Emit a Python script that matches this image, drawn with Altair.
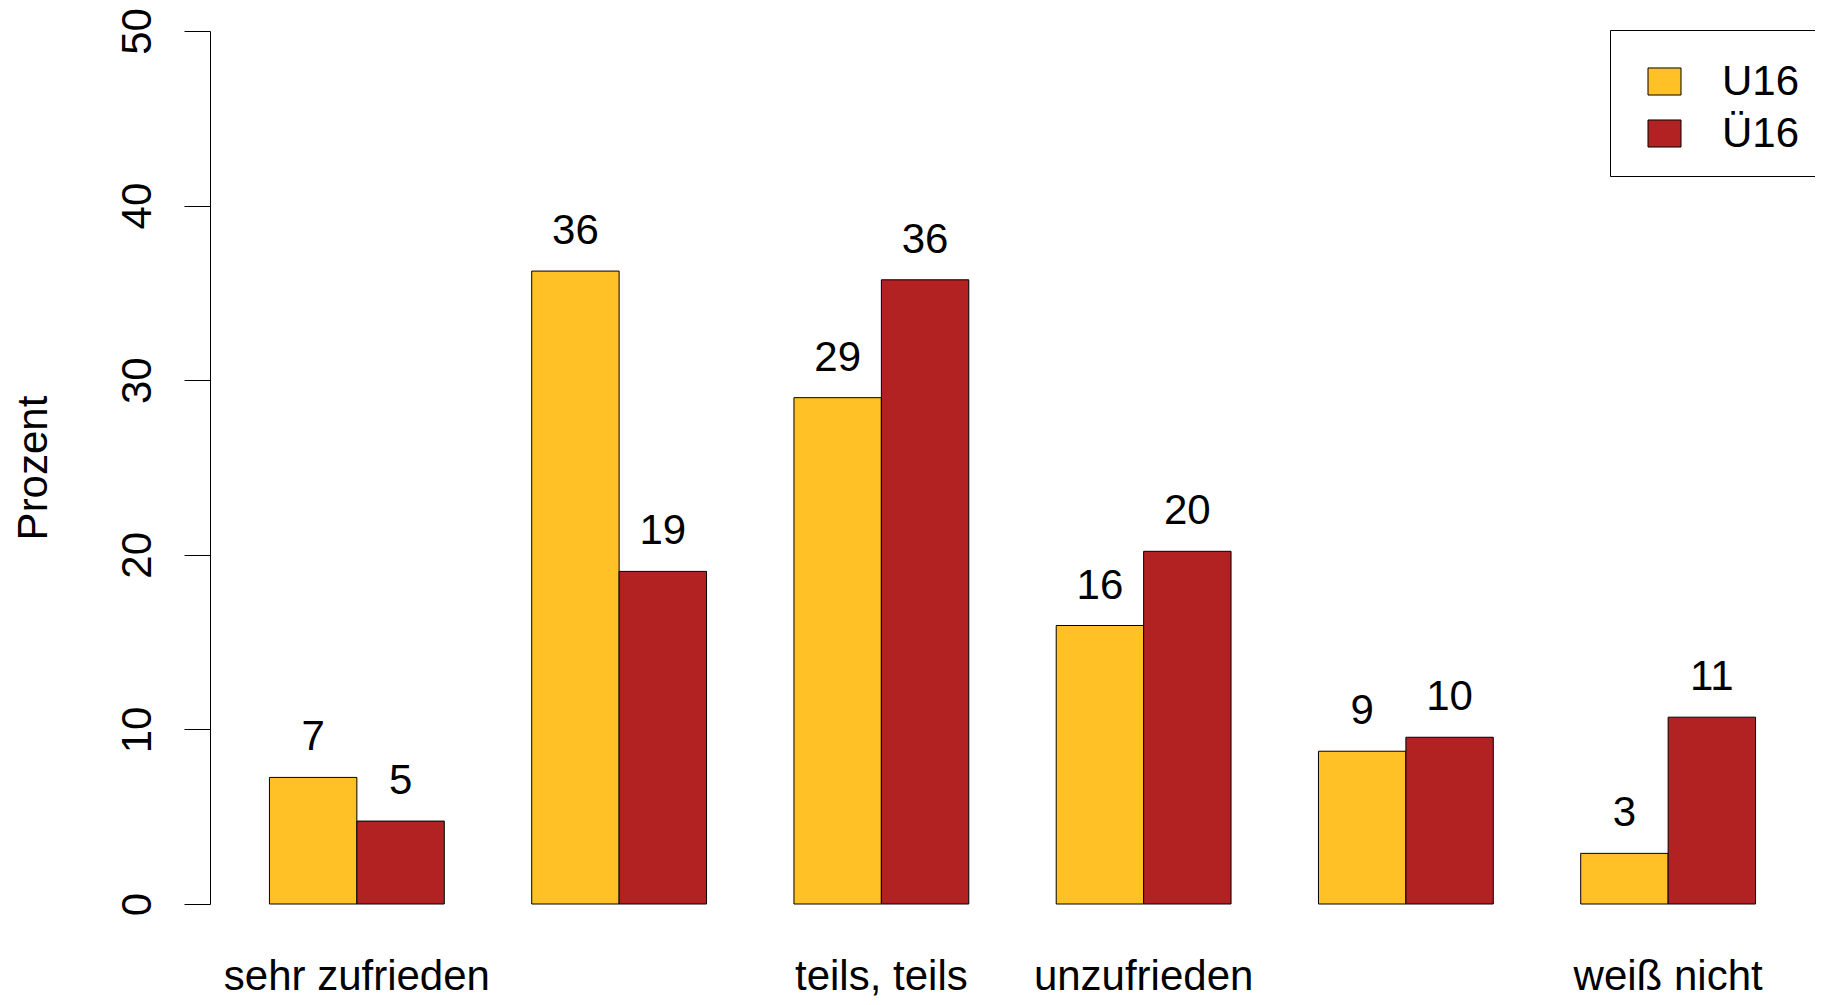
import altair as alt
import pandas as pd

categories = ["sehr zufrieden", "eher zufrieden", "teils, teils", "unzufrieden", "eher unzufrieden", "weiß nicht"]
hidden_labels = ["eher zufrieden", "eher unzufrieden"]
groups = ["U16", "Ü16"]
u16 = [7.25, 36.25, 29.0, 15.95, 8.75, 2.9]
ue16 = [4.75, 19.05, 35.75, 20.2, 9.55, 10.7]
colors = ["#FFC125", "#B22222"]
y_ticks = [0, 10, 20, 30, 40, 50]

rows = []
for c, a, b in zip(categories, u16, ue16):
    rows.append({"Kategorie": c, "Gruppe": groups[0], "Prozent": a})
    rows.append({"Kategorie": c, "Gruppe": groups[1], "Prozent": b})
df = pd.DataFrame(rows)

FONT = "Liberation Sans"
hidden_expr = "indexof(" + str(hidden_labels).replace('"', "'") + ", datum.value) >= 0 ? '' : datum.value"

x_enc = alt.X(
    "Kategorie:N",
    sort=categories,
    scale=alt.Scale(paddingInner=1 / 3, paddingOuter=0.2267),
    axis=alt.Axis(
        title=None, ticks=False, domain=False, labelAngle=0,
        labelFontSize=42, labelFont=FONT, labelColor="black",
        labelBaseline="alphabetic", labelPadding=85, labelLimit=0,
        labelOverlap=False, labelExpr=hidden_expr,
    ),
)
xoff_enc = alt.XOffset("Gruppe:N", sort=groups, scale=alt.Scale(paddingInner=0, paddingOuter=0))
y_enc = alt.Y(
    "Prozent:Q",
    scale=alt.Scale(domain=[0, 50], nice=False, zero=True),
    axis=alt.Axis(
        values=y_ticks, grid=False, domainColor="black", domainWidth=1,
        tickColor="black", tickSize=26, tickWidth=1,
        labelFontSize=42, labelFont=FONT, labelColor="black",
        labelAngle=270, labelAlign="center", labelBaseline="alphabetic",
        labelPadding=34, labelFlush=False, labelOverlap=False,
        title="Prozent", titleFont=FONT, titleFontSize=42, titleFontWeight="normal",
        titleColor="black", titleAngle=270, titleAlign="center",
        titleBaseline="alphabetic", titleX=-164, titleY=436.5,
    ),
)

bars = alt.Chart(df).mark_bar(stroke="black", strokeWidth=1, opacity=1).encode(
    x=x_enc,
    xOffset=xoff_enc,
    y=y_enc,
    fill=alt.Fill(
        "Gruppe:N",
        sort=groups,
        scale=alt.Scale(domain=groups, range=colors),
        legend=alt.Legend(
            title=" ", titleFontSize=4, titlePadding=5.75, titleOrient="top",
            orient="none", legendX=1400, legendY=-1,
            padding=16, strokeColor="black", fillColor="white",
            symbolType="M-1,-0.82H1V0.82H-1Z", symbolSize=1089,
            symbolStrokeColor="black", symbolStrokeWidth=1, symbolOpacity=1,
            symbolOffset=17.5, labelOffset=36.5,
            labelFontSize=42, labelFont=FONT, labelColor="black",
            clipHeight=51.5, rowPadding=0,
        ),
    ),
)

labels = alt.Chart(df).mark_text(
    baseline="alphabetic", align="center", dy=-27, fontSize=42, font=FONT, color="black"
).encode(
    x=alt.X("Kategorie:N", sort=categories),
    xOffset=alt.XOffset("Gruppe:N", sort=groups),
    y=alt.Y("Prozent:Q"),
    text=alt.Text("Prozent:Q", format=".0f"),
)

chart = (
    alt.layer(bars, labels)
    .properties(
        width=1605,
        height=873,
        padding={"left": 202, "top": 23, "right": 0, "bottom": 93},
        autosize=alt.AutoSizeParams(type="none"),
        background="white",
    )
    .configure_view(stroke=None)
)

chart.save("out.html", embed_options={"renderer": "svg", "actions": False})
